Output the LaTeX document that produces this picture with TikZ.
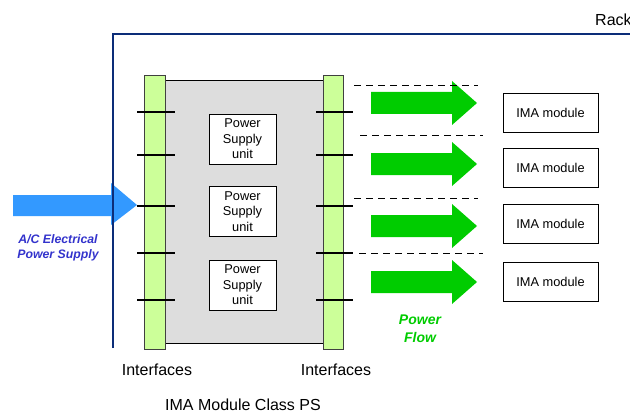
\documentclass[tikz,border=0pt]{standalone}
\usepackage{fontspec}
\setmainfont{Liberation Sans}
\usetikzlibrary{positioning}

\definecolor{rackblue}{HTML}{0C2D78}
\definecolor{ifgreen}{HTML}{CCFF99}
\definecolor{psgray}{HTML}{DDDDDD}
\definecolor{acblue}{HTML}{3399FF}
\definecolor{flowgreen}{HTML}{00CC00}
\definecolor{labelblue}{HTML}{3333CC}

\begin{document}
\begin{tikzpicture}[x=1pt, y=-1pt,
    box/.style={draw, fill=white, line width=0.9pt, inner sep=0pt, align=center},
    psu/.style={box, minimum width=67pt, minimum height=50pt, font=\fontsize{12.8}{15.5}\selectfont},
    ima/.style={box, minimum width=95pt, minimum height=39pt, font=\fontsize{12.8}{15}\selectfont},
    bar/.style={draw=black!75, fill=ifgreen, line width=0.9pt, minimum height=274pt, inner sep=0pt},
    tick/.style={line width=1.6pt},
    cut/.style={line width=1pt, dash pattern=on 7pt off 5pt},
    lbl/.style={font=\fontsize{16}{18}\selectfont, inner sep=0pt}]

    \useasboundingbox (0,0) rectangle (630,412);

    % Input arrow
    \fill[acblue] (13,195) -- (111,195) -- (111,183) -- (137,205)
        -- (111,225) -- (111,216) -- (13,216) -- cycle;

    % Rack
    \draw[rackblue, line width=2.6pt] (113,348) -- (113,34) -- (631,34);
    \node[lbl, anchor=base west] (rack) at (595,26) {Rack};

    % Module and interfaces
    \node[draw, fill=psgray, line width=0.9pt, minimum width=158pt, minimum height=263pt, inner sep=0pt] (ps) at (244,211.5) {};
    \node[bar, minimum width=21pt] (lbar) at (154.5,212) {};
    \node[bar, minimum width=20pt] (rbar) at (333,212) {};
    \foreach \y in {112,155,206,253,300} {
        \draw[tick] (137,\y) -- (175,\y);
        \draw[tick] (316,\y) -- (353,\y);
    }

    % Power supply units
    \node[psu] (psu1) at (242.5,139) {Power\\Supply\\unit};
    \node[psu] (psu2) at (242.5,211.5) {Power\\Supply\\unit};
    \node[psu] (psu3) at (242.5,285) {Power\\Supply\\unit};

    % IMA modules
    \node[ima] (ima1) at (550.5,112.5) {IMA module};
    \node[ima] (ima2) at (550.5,167.5) {IMA module};
    \node[ima] (ima3) at (550.5,223.5) {IMA module};
    \node[ima] (ima4) at (550.5,281.5) {IMA module};

    % Power flow arrows
    \foreach \c in {103,164,226,282}
        \fill[flowgreen] (371,\c-11) -- (452,\c-11) -- (452,\c-22) -- (477,\c)
            -- (452,\c+22) -- (452,\c+11) -- (371,\c+11) -- cycle;

    % Separators
    \draw[cut] (354,86) -- (478,86);
    \draw[cut] (360,136) -- (483,136);
    \draw[cut] (354,198) -- (478,198);
    \draw[cut] (359,253) -- (483,253);

    % Labels
    \node[align=center, text=labelblue, inner sep=0pt,
          font=\fontsize{12.3}{15.5}\selectfont\bfseries\itshape] (acps) at (58,248) {A/C Electrical\\Power Supply};
    \node[align=center, text=flowgreen, inner sep=0pt,
          font=\fontsize{14}{17.5}\selectfont\bfseries\itshape] (flow) at (420,329) {Power\\Flow};
    \node[lbl] (lif) at (157,370) {Interfaces};
    \node[lbl] (rif) at (336,370) {Interfaces};
    \node[lbl] (cls) at (243,405) {IMA Module Class PS};
\end{tikzpicture}
\end{document}
